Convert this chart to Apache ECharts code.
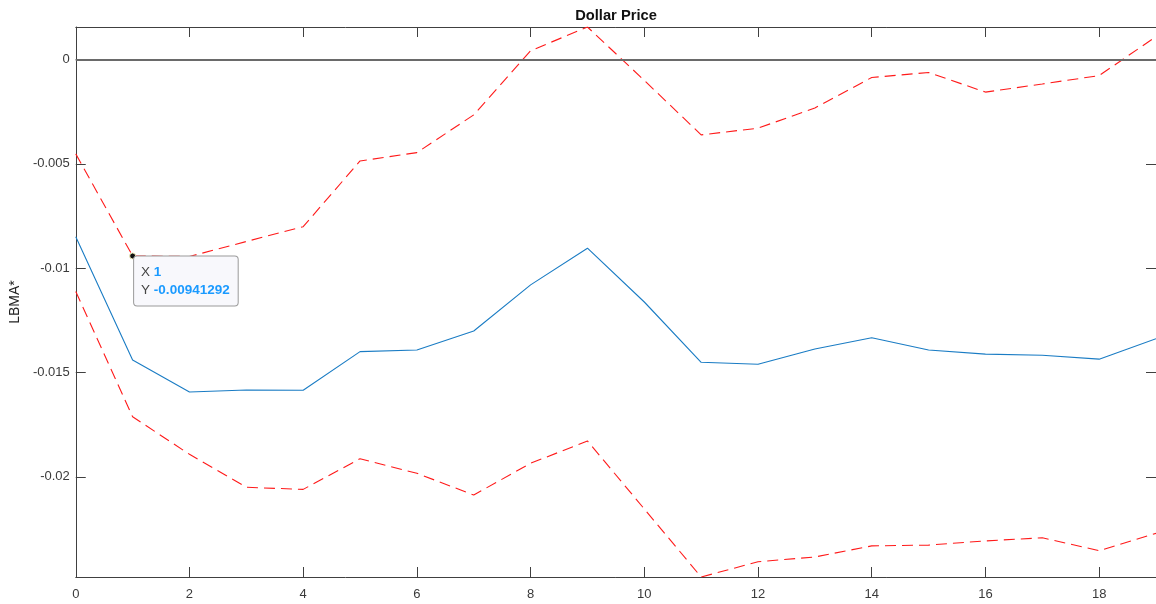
<!DOCTYPE html>
<html>
<head>
<meta charset="utf-8">
<script src="https://cdn.jsdelivr.net/npm/echarts@6/dist/echarts.min.js"></script>
<style>
html,body{margin:0;padding:0;background:#fff;}
#chart{width:1156px;height:604px;}
</style>
</head>
<body>
<div id="chart"></div>
<script>
const steps = [0,1,2,3,4,5,6,7,8,9,10,11,12,13,14,15,16,17,18,19];
const response = [-0.00849,-0.01440,-0.01593,-0.01584,-0.01585,-0.01400,-0.01392,-0.01301,-0.01080,-0.00904,-0.01162,-0.01451,-0.01460,-0.01387,-0.01333,-0.01392,-0.01412,-0.01417,-0.01436,-0.01338];
const upperBand = [-0.00452,-0.00941292,-0.00944,-0.00872,-0.00801,-0.00486,-0.00446,-0.00265,0.00042,0.00156,-0.00100,-0.00361,-0.00329,-0.00232,-0.00086,-0.00062,-0.00156,-0.00117,-0.00077,0.00110];
const lowerBand = [-0.01112,-0.01712,-0.01892,-0.02050,-0.02060,-0.01913,-0.01983,-0.02087,-0.01935,-0.01828,-0.02154,-0.02480,-0.02407,-0.02384,-0.02331,-0.02327,-0.02307,-0.02292,-0.02354,-0.02271];
const xTicks = [0,2,4,6,8,10,12,14,16,18];
const yTicks = [0,-0.005,-0.01,-0.015,-0.02];
const tipX = 1, tipY = -0.00941292;

const yMax = Math.max(...upperBand, ...response, ...lowerBand);
const yMin = Math.min(...upperBand, ...response, ...lowerBand);

const FONT = '"Liberation Sans", Arial, Helvetica, sans-serif';
const AX = '#404040';

const pair = a => steps.map((s, i) => [s, a[i]]);

const chart = echarts.init(document.getElementById('chart'), null, {renderer: 'canvas'});
const baseX = {
  type: 'value', min: 0, max: 19,
  splitLine: {show: false},
  axisLine: {onZero: false, lineStyle: {color: AX, width: 1}},
  axisTick: {inside: true, length: 10, customValues: xTicks, lineStyle: {color: AX}},
};
const baseY = {
  type: 'value', min: yMin, max: yMax,
  splitLine: {show: false},
  axisLine: {onZero: false, lineStyle: {color: AX, width: 1}},
  axisTick: {inside: true, length: 10, customValues: yTicks, lineStyle: {color: AX}},
};
chart.setOption({
  animation: false,
  backgroundColor: '#ffffff',
  title: {
    text: 'Dollar Price', left: 616, top: 8, padding: 0, textAlign: 'center',
    textStyle: {fontFamily: FONT, fontSize: 14.7, fontWeight: 'bold', color: '#111'}
  },
  grid: {left: 75, top: 27, width: 1083, height: 550, containLabel: false},
  xAxis: [
    Object.assign({}, baseX, {
      position: 'bottom',
      axisLabel: {customValues: xTicks, margin: 11, fontFamily: FONT, fontSize: 13, color: '#3a3a3a'}
    }),
    Object.assign({}, baseX, {position: 'top', axisLabel: {show: false}})
  ],
  yAxis: [
    Object.assign({}, baseY, {
      position: 'left',
      name: 'LBMA*', nameLocation: 'middle', nameGap: 46,
      nameTextStyle: {fontFamily: FONT, fontSize: 14, color: '#222'},
      axisLabel: {customValues: yTicks, margin: 6, fontFamily: FONT, fontSize: 13, color: '#3a3a3a'}
    }),
    Object.assign({}, baseY, {position: 'right', axisLabel: {show: false}})
  ],
  series: [
    {
      type: 'line', name: 'response', data: pair(response), showSymbol: false,
      lineStyle: {color: '#1a7cc4', width: 1.1}, z: 3,
      markLine: {
        silent: true, symbol: 'none', label: {show: false},
        lineStyle: {color: '#6a6a6a', width: 2, type: 'solid'},
        data: [{yAxis: 0}]
      }
    },
    {
      type: 'line', name: 'upper', data: pair(upperBand), showSymbol: false,
      lineStyle: {color: '#ff1a1a', width: 1.1, type: [11, 6]}, z: 4,
      markPoint: {
        symbol: 'circle', symbolSize: 6,
        itemStyle: {color: '#111', borderColor: '#f5f0c0', borderWidth: 1},
        data: [{coord: [tipX, tipY], value: tipY}],
        label: {
          show: true, position: [5, 4],
          formatter: () => '{k|X }{v|' + tipX + '}\n{k|Y }{v|' + tipY + '}',
          backgroundColor: '#f8f8fc', borderColor: '#9a9a9a', borderWidth: 1, borderRadius: 3,
          padding: [7, 8, 6, 7],
          rich: {
            k: {fontFamily: FONT, fontSize: 13.5, color: '#444', lineHeight: 18},
            v: {fontFamily: FONT, fontSize: 13.5, fontWeight: 'bold', color: '#1a9aff', lineHeight: 18}
          }
        },
        z: 10
      }
    },
    {
      type: 'line', name: 'lower', data: pair(lowerBand), showSymbol: false,
      lineStyle: {color: '#ff1a1a', width: 1.1, type: [11, 6]}, z: 4
    }
  ]
});
</script>
</body>
</html>
